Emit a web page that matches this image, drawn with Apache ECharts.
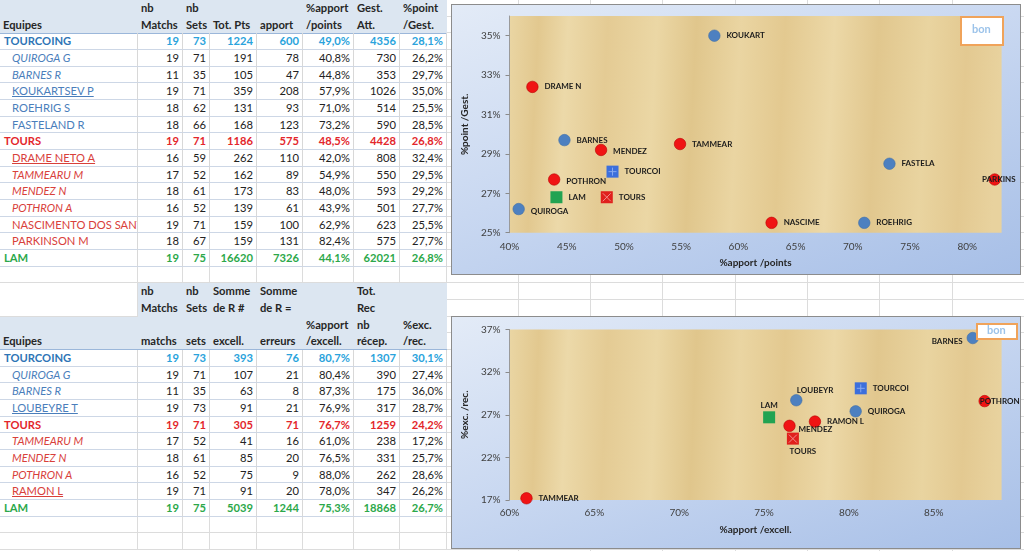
<!DOCTYPE html>
<html><head><meta charset="utf-8">
<script src="https://cdn.jsdelivr.net/npm/echarts@6/dist/echarts.min.js"></script>
<style>
html,body{margin:0;padding:0;width:1024px;height:551px;overflow:hidden;background:#fff;font-family:Lato,'Open Sans',sans-serif;}
#bg{position:absolute;left:0;top:0;width:1024px;height:551px;
 background-image:repeating-linear-gradient(to bottom,transparent 0,transparent 15.667px,#dcdcdc 15.667px,#dcdcdc 16.667px);}
.vl{position:absolute;top:0;width:1px;height:551px;background:#dcdcdc;}
.cell{position:absolute;box-sizing:border-box;white-space:nowrap;overflow:hidden;font-size:11.2px;color:#222;}
.chart{position:absolute;box-sizing:border-box;border:1px solid #8c8c8c;
 background:linear-gradient(160deg,#e3ebf7 0%,#c9d8f1 45%,#a7bfe7 100%);}
</style></head>
<body>
<div id="bg"></div>
<div id="sheet"></div>
<div id="c1" class="chart" style="left:451px;top:4px;width:570px;height:271px;"></div>
<div id="c2" class="chart" style="left:451px;top:316px;width:570px;height:233px;"></div>
<script>
// ---------- DATA : table 1 (attaque) ----------
const names1 = ['TOURCOING','QUIROGA G','BARNES R','KOUKARTSEV P','ROEHRIG S','FASTELAND R','TOURS','DRAME NETO A','TAMMEARU M','MENDEZ N','POTHRON A','NASCIMENTO DOS SANT','PARKINSON M','LAM'];
const matchs1 = [19,19,11,19,18,18,19,16,17,18,16,19,18,19];
const sets1 = [73,71,35,71,62,66,71,59,52,61,52,71,67,75];
const totPts1 = [1224,191,105,359,131,168,1186,262,162,173,139,159,159,16620];
const apport1 = [600,78,47,208,93,123,575,110,89,83,61,100,131,7326];
const pctApport1 = [49.0,40.8,44.8,57.9,71.0,73.2,48.5,42.0,54.9,48.0,43.9,62.9,82.4,44.1];
const gestAtt1 = [4356,730,353,1026,514,590,4428,808,550,593,501,623,575,62021];
const pctPoint1 = [28.1,26.2,29.7,35.0,25.5,28.5,26.8,32.4,29.5,29.2,27.7,25.5,27.7,26.8];
const labels1 = ['TOURCOI','QUIROGA','BARNES','KOUKART','ROEHRIG','FASTELA','TOURS','DRAME N','TAMMEAR','MENDEZ','POTHRON','NASCIME','PARKINS','LAM'];
const head1 = ['Equipes','nb\nMatchs','nb\nSets','Tot. Pts','apport','%apport\n/points','Gest.\nAtt.','%point\n/Gest.'];

// ---------- DATA : table 2 (réception) ----------
const names2 = ['TOURCOING','QUIROGA G','BARNES R','LOUBEYRE T','TOURS','TAMMEARU M','MENDEZ N','POTHRON A','RAMON L','LAM'];
const matchs2 = [19,19,11,19,19,17,18,16,19,19];
const sets2 = [73,71,35,73,71,52,61,52,71,75];
const excell2 = [393,107,63,91,305,41,85,75,91,5039];
const erreurs2 = [76,21,8,21,71,16,20,9,20,1244];
const pctApport2 = [80.7,80.4,87.3,76.9,76.7,61.0,76.5,88.0,78.0,75.3];
const recep2 = [1307,390,175,317,1259,238,331,262,347,18868];
const pctExc2 = [30.1,27.4,36.0,28.7,24.2,17.2,25.7,28.6,26.2,26.7];
const labels2 = ['TOURCOI','QUIROGA','BARNES','LOUBEYR','TOURS','TAMMEAR','MENDEZ','POTHRON','RAMON L','LAM'];
const head2top = ['','nb\nMatchs','nb\nSets','Somme\nde R #','Somme\nde R =','','Tot.\nRec',''];
const head2bot = ['Equipes','matchs','sets','excell.','erreurs','%apport\n/excell.','nb\nrécep.','%exc.\n/rec.'];

// ---------- axis ticks ----------
const xTicks1 = [40,45,50,55,60,65,70,75,80];
const yTicks1 = [25,27,29,31,33,35];
const xTicks2 = [60,65,70,75,80,85];
const yTicks2 = [17,22,27,32,37];
const legendName = 'bon';

// ---------- group membership (row indices) ----------
const grp1 = {blue:[1,2,3,4,5], red:[7,8,9,10,11,12], tc:[0], tr:[6], lam:[13]};
const grp2 = {blue:[1,2,3], red:[5,6,7,8], tc:[0], tr:[4], lam:[9]};

// ================= spreadsheet =================
const COLS = [0,138,183,210,257,303,354,400,447];
const RH = 50/3;
const sheet = document.getElementById('sheet');
[517.7,590,662,735,807,879,951.5].forEach(x=>{const d=document.createElement('div');d.className='vl';d.style.left=x+'px';sheet.appendChild(d);});

function cell(c, r0, nr, html, st){
  const d=document.createElement('div'); d.className='cell';
  d.style.left=COLS[c]+'px'; d.style.width=(COLS[c+1]-COLS[c])+'px';
  d.style.top=(r0*RH)+'px'; d.style.height=(nr*RH)+'px';
  d.style.lineHeight=RH+'px';
  Object.assign(d.style, st||{});
  d.innerHTML=html; sheet.appendChild(d); return d;
}
const fmtPct = v => v.toFixed(1).replace('.',',')+'%';
const STY = {
  teamB:{name:'#2e75b6', num:'#2aa3dc', bold:true},
  teamR:{name:'#e3262b', num:'#e3262b', bold:true},
  teamG:{name:'#2ca84a', num:'#2ca84a', bold:true},
  pB:{name:'#4a7ebb', num:'#222'},
  pR:{name:'#d8403a', num:'#222'}
};
function headerBlock(r0, nr, cols, labels, bgFrom){
  for(let c=0;c<8;c++){
    const bg = c>=bgFrom ? '#dce6f1' : 'transparent';
    const t = labels[c]; const lines = t? t.split('\n'):[];
    const html = lines.length===2 ? lines.join('<br>') : (lines.length? '<br>'+lines[0] : '');
    cell(c, r0, nr, html, {background:bg, fontWeight:'bold', paddingLeft:'3px', paddingTop:'0px', color:'#262626', overflow:'visible'});
  }
}
function dataRows(r0, names, cols, kinds){
  names.forEach((n,i)=>{
    const k = kinds[i]; const s = STY[k.split('-')[0]];
    const f = k.split('-')[1]||'';
    const base = {borderBottom:'1px solid #cdd7e6', borderRight:'1px solid #d8d8d8'};
    cell(0, r0+i, 1, n, Object.assign({}, base, {color:s.name, fontWeight:s.bold?'bold':'normal',
      fontStyle:f==='i'?'italic':'normal', textDecoration:f==='u'?'underline':'none',
      paddingLeft:(s.bold?4:12)+'px'}));
    cols.forEach((arr,j)=>{
      const v = arr[i];
      cell(j+1, r0+i, 1, arr.pct? fmtPct(v): String(v), Object.assign({}, base, {textAlign:'right', paddingRight:'3px',
        color:s.num, fontWeight:s.bold?'bold':'normal'}));
    });
  });
}
function emptyRow(r){ for(let c=0;c<8;c++) cell(c,r,1,'',{borderBottom:'1px solid #dcdcdc',borderRight:'1px solid #dcdcdc',background:'#fff'}); }

const kinds1 = ['teamB','pB-i','pB-i','pB-u','pB','pB','teamR','pR-u','pR-i','pR-i','pR-i','pR','pR','teamG'];
const kinds2 = ['teamB','pB-i','pB-i','pB-u','teamR','pR-i','pR-i','pR-i','pR-u','teamG'];
[pctApport1,pctPoint1,pctApport2,pctExc2].forEach(a=>a.pct=true);

// table 1
headerBlock(0,2,null,head1,0);
cell(0,1.96,0.04,'',{background:'#9bb7da',width:'447px'});
dataRows(2, names1, [matchs1,sets1,totPts1,apport1,pctApport1,gestAtt1,pctPoint1], kinds1);
emptyRow(16);
// table 2
for(let c=0;c<8;c++){ cell(c,17,2,'',{background:c>=1?'#dce6f1':'#fff',borderRight:c===0?'1px solid #dcdcdc':'none',borderBottom:c===0?'1px solid #dcdcdc':'none'}); }
headerBlock(17,2,null,head2top,99);
headerBlock(19,2,null,head2bot,0);
cell(0,20.96,0.04,'',{background:'#9bb7da',width:'447px'});
dataRows(21, names2, [matchs2,sets2,excell2,erreurs2,pctApport2,recep2,pctExc2], kinds2);
emptyRow(31); emptyRow(32);

// ================= charts =================
const FONT = 'Lato, "Open Sans", sans-serif';
function papyrus(){
  return new echarts.graphic.LinearGradient(0,0,1,0.12,[
    {offset:0,color:'#ead6a4'},{offset:0.06,color:'#e2c88f'},{offset:0.12,color:'#ecd9a9'},
    {offset:0.2,color:'#e4cb94'},{offset:0.3,color:'#ebd7a5'},{offset:0.38,color:'#e0c68c'},
    {offset:0.47,color:'#ead5a2'},{offset:0.56,color:'#e3c990'},{offset:0.66,color:'#ecd8a7'},
    {offset:0.75,color:'#e1c78e'},{offset:0.85,color:'#e9d4a0'},{offset:0.93,color:'#e3c991'},
    {offset:1,color:'#e8d29e'}]);
}
function pts(idx, xs, ys, labs, place){
  return idx.map(i=>{
    const p = place[labs[i]] || {};
    return {value:[xs[i],ys[i]], name:labs[i], label:Object.assign({position:'right',distance:6}, p)};
  });
}
function makeOption(cfg){
  const {xs,ys,labs,grp,place} = cfg;
  const lab = {show:true, formatter:'{b}', color:'#1c1c1c', fontSize:8, fontWeight:'bold', fontFamily:FONT};
  const circ = (idx,color,border)=>({type:'scatter', symbol:'circle', symbolSize:11.5, data:pts(idx,xs,ys,labs,place),
    itemStyle:{color:color, borderColor:border, borderWidth:0.6, opacity:1}, label:lab, emphasis:{disabled:true}});
  const sq = (idx,color)=>({type:'scatter', symbol:'rect', symbolSize:12, data:pts(idx,xs,ys,labs,place),
    itemStyle:{color:color, opacity:1}, label:lab, emphasis:{disabled:true}});
  const mark = (idx,path,color)=>({type:'scatter', symbol:path, symbolSize:8, silent:true,
    data:idx.map(i=>[xs[i],ys[i]]), itemStyle:{color:'transparent', borderColor:color, borderWidth:1, opacity:1}, z:3});
  return {
    animation:false,
    backgroundColor:'transparent',
    textStyle:{fontFamily:FONT},
    grid:{left:56.6, right:18.4, top:cfg.top, bottom:cfg.bottom, show:true, borderWidth:0, backgroundColor:papyrus()},
    xAxis:{type:'value', min:cfg.xmin, max:cfg.xmax, name:cfg.xname, nameLocation:'middle', nameGap:25,
      nameTextStyle:{fontWeight:'bold', fontSize:10, color:'#262626', fontFamily:FONT},
      axisLine:{show:false}, axisTick:{show:false}, splitLine:{show:false},
      axisLabel:{customValues:cfg.xticks, formatter:v=>v+'%', color:'#404040', fontSize:10, margin:cfg.xmargin, fontFamily:FONT}},
    yAxis:{type:'value', min:cfg.ymin, max:cfg.ymax, name:cfg.yname, nameLocation:'middle', nameGap:32,
      nameTextStyle:{fontWeight:'bold', fontSize:10, color:'#262626', fontFamily:FONT},
      axisLine:{show:true, lineStyle:{color:'#9a9a9a'}}, axisTick:{show:true, customValues:cfg.yticks, length:4, lineStyle:{color:'#8a8a8a'}},
      splitLine:{show:false},
      axisLabel:{customValues:cfg.yticks, formatter:v=>v+'%', color:'#404040', fontSize:10, margin:9, fontFamily:FONT}},
    series:[
      circ(grp.blue,'#4d80c0','#3f6ea8'),
      circ(grp.red,'#f01414','#b80000'),
      sq(grp.tc,'#3c6fdc'),
      sq(grp.tr,'#e0201c'),
      sq(grp.lam,'#22a352'),
      mark(grp.tc,'path://M5,0L5,10M0,5L10,5','#86a8f0'),
      mark(grp.tr,'path://M0,0L10,10M10,0L0,10','#f28a8a')
    ],
    graphic:[
      {type:'rect', left:cfg.lg[0], top:cfg.lg[1], shape:{width:cfg.lg[2], height:cfg.lg[3]},
       style:{fill:'#ffffff', stroke:'#f0a35a', lineWidth:2}, z:10},
      {type:'text', left:cfg.lg[0]+cfg.lg[2]/2-9, top:cfg.lg[1]+cfg.lg[3]/2-6,
       style:{text:legendName, fill:'#9cc3ea', fontSize:11, fontWeight:'bold', fontFamily:FONT}, z:11}
    ]
  };
}
const c1 = echarts.init(document.getElementById('c1'), null, {renderer:'canvas'});
c1.setOption(makeOption({
  xs:pctApport1, ys:pctPoint1, labs:labels1, grp:grp1,
  top:11, bottom:41.3, xmin:40, xmax:83, ymin:25, ymax:36, xticks:xTicks1, yticks:yTicks1, xmargin:9,
  xname:'%apport /points', yname:'%point /Gest.', lg:[508,11,42,28],
  place:{
    'PARKINS':{position:'inside', offset:[4,0]},
    'QUIROGA':{offset:[0,2]},
    'POTHRON':{offset:[0,2]},
    'MENDEZ':{offset:[0,1]}
  }
}));
const c2 = echarts.init(document.getElementById('c2'), null, {renderer:'canvas'});
c2.setOption(makeOption({
  xs:pctApport2, ys:pctExc2, labs:labels2, grp:grp2,
  top:12.5, bottom:48, xmin:60, xmax:89, ymin:17, ymax:37, xticks:xTicks2, yticks:yTicks2, xmargin:8,
  xname:'%apport /excell.', yname:'%exc. /rec.', lg:[524,6,40,15],
  place:{
    'BARNES':{position:'left', distance:4, offset:[0,3]},
    'POTHRON':{position:'inside', offset:[15,0]},
    'LOUBEYR':{offset:[-11.5,-10]},
    'LAM':{position:'top', distance:2},
    'MENDEZ':{distance:3, offset:[0,4]},
    'TOURS':{position:'bottom', distance:3, offset:[10,0]}
  }
}));
</script>
</body></html>
